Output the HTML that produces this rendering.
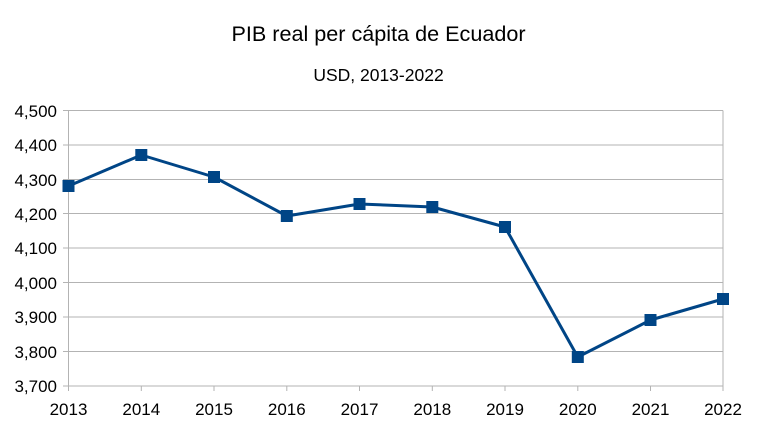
<!DOCTYPE html>
<html><head><meta charset="utf-8"><style>body{margin:0;background:#fff}svg{display:block}</style></head><body>
<svg width="757" height="426" xmlns="http://www.w3.org/2000/svg" font-family="Liberation Sans, sans-serif">
<rect width="757" height="426" fill="#fff"/>
<text x="378.5" y="41" font-size="21.6" text-anchor="middle" fill="#000">PIB real per cápita de Ecuador</text>
<text x="378.5" y="81" font-size="17.5" text-anchor="middle" fill="#000">USD, 2013-2022</text>
<g stroke="#b3b3b3" stroke-width="1">
<line x1="63" y1="110.5" x2="723" y2="110.5"/>
<line x1="63" y1="145" x2="723" y2="145"/>
<line x1="63" y1="179.5" x2="723" y2="179.5"/>
<line x1="63" y1="213.5" x2="723" y2="213.5"/>
<line x1="63" y1="248" x2="723" y2="248"/>
<line x1="63" y1="282.5" x2="723" y2="282.5"/>
<line x1="63" y1="317" x2="723" y2="317"/>
<line x1="63" y1="351.5" x2="723" y2="351.5"/>
<line x1="63" y1="386" x2="723" y2="386"/>
<line x1="68.5" y1="110.5" x2="68.5" y2="391"/>
<line x1="723" y1="110.5" x2="723" y2="391"/>
<line x1="141.3" y1="386" x2="141.3" y2="391"/>
<line x1="214" y1="386" x2="214" y2="391"/>
<line x1="286.8" y1="386" x2="286.8" y2="391"/>
<line x1="359.5" y1="386" x2="359.5" y2="391"/>
<line x1="432.3" y1="386" x2="432.3" y2="391"/>
<line x1="505" y1="386" x2="505" y2="391"/>
<line x1="577.8" y1="386" x2="577.8" y2="391"/>
<line x1="650.5" y1="386" x2="650.5" y2="391"/>
</g>
<g font-size="17" text-anchor="end" fill="#000">
<text x="57" y="117">4,500</text><text x="57" y="151">4,400</text><text x="57" y="186">4,300</text>
<text x="57" y="220">4,200</text><text x="57" y="254">4,100</text><text x="57" y="289">4,000</text>
<text x="57" y="323">3,900</text><text x="57" y="358">3,800</text><text x="57" y="392">3,700</text>
</g>
<g font-size="17" text-anchor="middle" fill="#000">
<text x="68.5" y="415">2013</text><text x="141.3" y="415">2014</text><text x="214" y="415">2015</text>
<text x="286.8" y="415">2016</text><text x="359.5" y="415">2017</text><text x="432.3" y="415">2018</text>
<text x="505" y="415">2019</text><text x="577.8" y="415">2020</text><text x="650.5" y="415">2021</text>
<text x="723" y="415">2022</text>
</g>
<polyline fill="none" stroke="#004586" stroke-width="3" stroke-linejoin="round" points="68.5,186 141.3,155 214,177 286.8,216 359.5,204 432.3,207 505,227 577.8,357 650.5,320 723,299"/>
<g fill="#004586">
<rect x="62.5" y="180" width="12" height="12"/><rect x="135.3" y="149" width="12" height="12"/>
<rect x="208" y="171" width="12" height="12"/><rect x="280.8" y="210" width="12" height="12"/>
<rect x="353.5" y="198" width="12" height="12"/><rect x="426.3" y="201" width="12" height="12"/>
<rect x="499" y="221" width="12" height="12"/><rect x="571.8" y="351" width="12" height="12"/>
<rect x="644.5" y="314" width="12" height="12"/><rect x="717" y="293" width="12" height="12"/>
</g>
</svg>
</body></html>
